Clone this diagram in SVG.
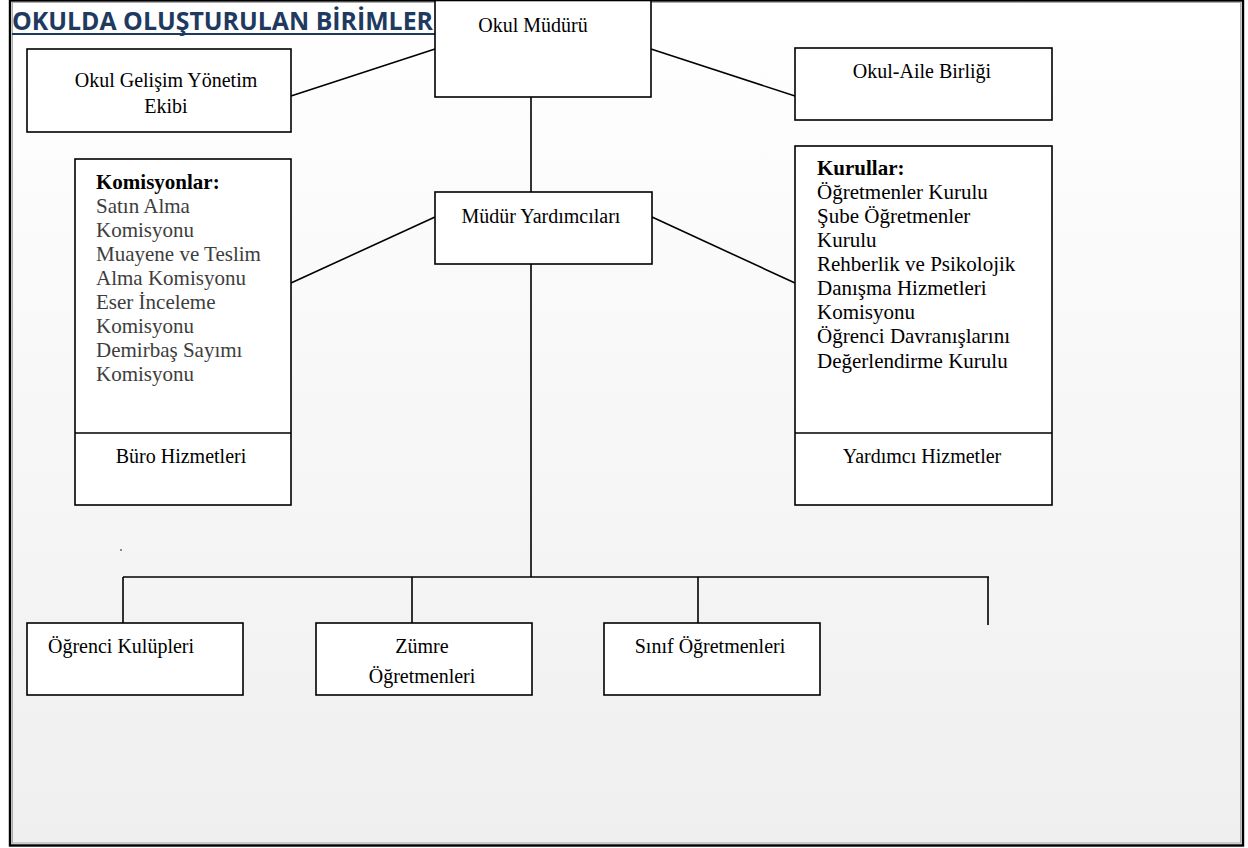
<svg xmlns="http://www.w3.org/2000/svg" width="1248" height="848" viewBox="0 0 1248 848">
  <defs>
    <linearGradient id="bg" x1="0" y1="0" x2="0" y2="1">
      <stop offset="0" stop-color="#ffffff"/>
      <stop offset="1" stop-color="#efefef"/>
    </linearGradient>
  </defs>
  <style>
    .box { fill: #ffffff; stroke: #000000; stroke-width: 1.6; }
    .ln { stroke: #000000; stroke-width: 1.6; fill: none; }
    .t { font-family: "Liberation Serif", "Times New Roman", serif; font-size: 20px; fill: #000000; }
    .c { text-anchor: middle; }
    .lst { font-family: "Liberation Serif", "Times New Roman", serif; font-size: 21px; fill: #000000; }
    .gray { fill: #3d3d3d; }
    .b { font-weight: bold; fill: #000000; }
    .title { font-family: "Open Sans", "Noto Sans", sans-serif; font-weight: bold; font-size: 25px; fill: #1f3a5f; }
  </style>
  <rect x="0" y="0" width="1248" height="848" fill="#ffffff"/>
  <rect x="10" y="0.5" width="1233" height="845" fill="url(#bg)" stroke="#000000" stroke-width="2.4"/>
  <rect x="12.5" y="2.5" width="1228" height="840.5" fill="none" stroke="#9a9a9a" stroke-width="0.8"/>

  <g id="title">
    <text class="title" x="12" y="30" textLength="421" lengthAdjust="spacingAndGlyphs">OKULDA OLUŞTURULAN BİRİMLER</text>
    <line x1="12" y1="34" x2="440" y2="34" stroke="#1f3a5f" stroke-width="1.8"/>
  </g>

  <g id="connectors">
    <line class="ln" x1="291" y1="96" x2="435" y2="49"/>
    <line class="ln" x1="651" y1="49" x2="795" y2="96"/>
    <line class="ln" x1="531" y1="97" x2="531" y2="192"/>
    <line class="ln" x1="435" y1="217" x2="291" y2="283"/>
    <line class="ln" x1="652" y1="217" x2="795" y2="283"/>
    <line class="ln" x1="531" y1="264" x2="531" y2="577"/>
    <line class="ln" x1="123" y1="577" x2="989" y2="577"/>
    <line class="ln" x1="123" y1="577" x2="123" y2="623"/>
    <line class="ln" x1="412" y1="577" x2="412" y2="623"/>
    <line class="ln" x1="698" y1="577" x2="698" y2="623"/>
    <line class="ln" x1="988" y1="577" x2="988" y2="625"/>
  </g>

  <g id="okul-muduru">
    <rect class="box" x="435" y="0.5" width="216" height="96.5"/>
    <text class="t c" x="533" y="32">Okul Müdürü</text>
  </g>

  <g id="okul-gelisim">
    <rect class="box" x="27" y="49" width="264" height="83"/>
    <text class="t c" x="166" y="87">Okul Gelişim Yönetim</text>
    <text class="t c" x="166" y="113">Ekibi</text>
  </g>

  <g id="okul-aile">
    <rect class="box" x="795" y="48" width="257" height="72"/>
    <text class="t c" x="922" y="78">Okul-Aile Birliği</text>
  </g>

  <g id="mudur-yardimcilari">
    <rect class="box" x="435" y="192" width="217" height="72"/>
    <text class="t c" x="541" y="223">Müdür Yardımcıları</text>
  </g>

  <g id="komisyonlar">
    <rect class="box" x="75" y="159" width="216" height="346"/>
    <line class="ln" x1="75" y1="433" x2="291" y2="433"/>
    <text class="lst b" x="96" y="189">Komisyonlar:</text>
    <text class="lst gray" x="96" y="213">Satın Alma</text>
    <text class="lst gray" x="96" y="237">Komisyonu</text>
    <text class="lst gray" x="96" y="261">Muayene ve Teslim</text>
    <text class="lst gray" x="96" y="285">Alma Komisyonu</text>
    <text class="lst gray" x="96" y="309">Eser İnceleme</text>
    <text class="lst gray" x="96" y="333">Komisyonu</text>
    <text class="lst gray" x="96" y="357">Demirbaş Sayımı</text>
    <text class="lst gray" x="96" y="381">Komisyonu</text>
    <text class="t c" x="181" y="463">Büro Hizmetleri</text>
  </g>

  <g id="kurullar">
    <rect class="box" x="795" y="146" width="257" height="359"/>
    <line class="ln" x1="795" y1="433" x2="1052" y2="433"/>
    <text class="lst b" x="817" y="175">Kurullar:</text>
    <text class="lst" x="817" y="199">Öğretmenler Kurulu</text>
    <text class="lst" x="817" y="223">Şube Öğretmenler</text>
    <text class="lst" x="817" y="247">Kurulu</text>
    <text class="lst" x="817" y="271">Rehberlik ve Psikolojik</text>
    <text class="lst" x="817" y="295">Danışma Hizmetleri</text>
    <text class="lst" x="817" y="319">Komisyonu</text>
    <text class="lst" x="817" y="343">Öğrenci Davranışlarını</text>
    <text class="lst" x="817" y="368">Değerlendirme  Kurulu</text>
    <text class="t c" x="922" y="463">Yardımcı Hizmetler</text>
  </g>

  <g id="dot">
    <circle cx="121" cy="550" r="0.8" fill="#000000"/>
  </g>

  <g id="ogrenci-kulupleri">
    <rect class="box" x="27" y="623" width="216" height="72"/>
    <text class="t" x="48" y="653">Öğrenci Kulüpleri</text>
  </g>

  <g id="zumre">
    <rect class="box" x="316" y="623" width="216" height="72"/>
    <text class="t c" x="422" y="653">Zümre</text>
    <text class="t c" x="422" y="683">Öğretmenleri</text>
  </g>

  <g id="sinif">
    <rect class="box" x="604" y="623" width="216" height="72"/>
    <text class="t c" x="710" y="653">Sınıf Öğretmenleri</text>
  </g>
</svg>
